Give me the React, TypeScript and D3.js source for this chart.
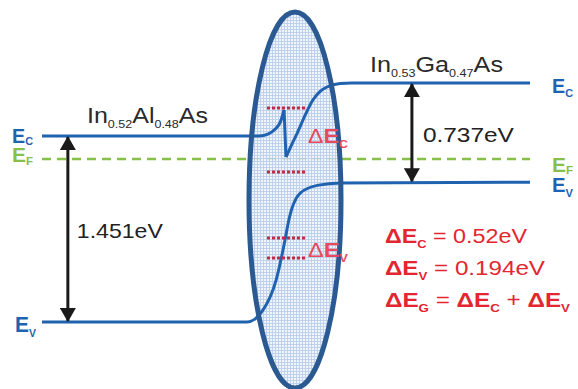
import React, { useEffect, useRef } from "react";
import * as d3 from "d3";

// band levels in eV (left InAlAs valence band = 0)
const leftEc = 1.451;
const leftEv = 0;
const rightEc = 1.864;
const rightEv = 1.09;
const fermi = 1.271;

// position (a.u., 0..100) / energy pairs for the junction region
const cbLeft: [number, number][] = [
  [0, 1.451], [44.5, 1.451], [46.3, 1.466], [47.8, 1.505], [48.9, 1.565], [49.6, 1.654],
];
const cbDrop: [number, number][] = [[49.6, 1.654], [50.0, 1.287]];
const cbRight: [number, number][] = [
  [50.0, 1.287], [51.0, 1.37], [52.3, 1.474], [54.0, 1.62], [55.5, 1.732],
  [57.0, 1.8], [58.4, 1.833], [61.1, 1.86], [63.5, 1.864], [100, 1.864],
];
const vb: [number, number][] = [
  [0, 0], [42.0, 0], [45.3, 0.094], [48.0, 0.33], [49.8, 0.64], [50.6, 0.8],
  [52.9, 1.006], [56.4, 1.066], [61.1, 1.085], [100, 1.09],
];

// offset markers (ΔEc, ΔEv) — energies of the dotted red bars
const offsetBars = [1.669, 1.17, 0.655, 0.499];
const offsetSpan: [number, number] = [46.1, 53.9];

const gaps = [
  { label: "1.451eV", pos: 5.3, top: leftEc, bottom: leftEv },
  { label: "0.737eV", pos: 75.8, top: rightEc, bottom: rightEv },
];

const results = [
  { sym: "C", value: "0.52eV" },
  { sym: "V", value: "0.194eV" },
];

const BLUE = "#1f63b0";
const GREEN = "#86c04a";
const RED = "#e3262f";

export default function App() {
  const ref = useRef<SVGSVGElement>(null);
  const width = 578;
  const height = 389;

  useEffect(() => {
    const svg = d3.select(ref.current);
    svg.selectAll("*").remove();

    const x = d3.scaleLinear().domain([0, 100]).range([42, 530]);
    const y = d3.scaleLinear().domain([0, 1.451]).range([322, 136]);

    const defs = svg.append("defs");
    const pat = defs.append("pattern")
      .attr("id", "grid")
      .attr("width", 3)
      .attr("height", 3)
      .attr("patternUnits", "userSpaceOnUse");
    pat.append("rect").attr("width", 3).attr("height", 3).attr("fill", "#b8cce9");
    pat.append("rect").attr("width", 2).attr("height", 2).attr("fill", "#eef3fa");

    const mk = defs.append("marker")
      .attr("id", "head")
      .attr("viewBox", "0 0 14 16")
      .attr("refX", 13)
      .attr("refY", 8)
      .attr("markerWidth", 14)
      .attr("markerHeight", 16)
      .attr("markerUnits", "userSpaceOnUse")
      .attr("orient", "auto-start-reverse");
    mk.append("path").attr("d", "M0,0 L14,8 L0,16 Z").attr("fill", "#1a1a1a");

    // Fermi level
    svg.append("line")
      .attr("x1", x(0)).attr("x2", x(100))
      .attr("y1", y(fermi)).attr("y2", y(fermi))
      .attr("stroke", GREEN)
      .attr("stroke-width", 2.5)
      .attr("stroke-dasharray", "9,6");

    // junction ellipse
    const ell = { cx: 295, cy: 200, rx: 46, ry: 188 };
    svg.append("ellipse")
      .attr("cx", ell.cx).attr("cy", ell.cy).attr("rx", ell.rx).attr("ry", ell.ry)
      .attr("fill", "url(#grid)")
      .attr("opacity", 0.9);

    const line = d3.line<[number, number]>()
      .x((d) => x(d[0]))
      .y((d) => y(d[1]))
      .curve(d3.curveMonotoneX);
    const straight = d3.line<[number, number]>().x((d) => x(d[0])).y((d) => y(d[1]));

    [cbLeft, cbRight, vb].forEach((pts) => {
      svg.append("path").attr("d", line(pts)).attr("fill", "none")
        .attr("stroke", BLUE).attr("stroke-width", 3);
    });
    svg.append("path").attr("d", straight(cbDrop)).attr("fill", "none")
      .attr("stroke", BLUE).attr("stroke-width", 3);

    // dotted offset bars
    offsetBars.forEach((e) => {
      svg.append("line")
        .attr("x1", x(offsetSpan[0])).attr("x2", x(offsetSpan[1]))
        .attr("y1", y(e)).attr("y2", y(e))
        .attr("stroke", "#c02a42")
        .attr("stroke-width", 3)
        .attr("stroke-dasharray", "3,2");
    });

    svg.append("ellipse")
      .attr("cx", ell.cx).attr("cy", ell.cy).attr("rx", ell.rx).attr("ry", ell.ry)
      .attr("fill", "none")
      .attr("stroke", "#2b5a93")
      .attr("stroke-width", 5);

    // gap arrows
    gaps.forEach((g, i) => {
      svg.append("line")
        .attr("x1", x(g.pos)).attr("x2", x(g.pos))
        .attr("y1", y(g.top) + 1).attr("y2", y(g.bottom) - 1)
        .attr("stroke", "#1a1a1a")
        .attr("stroke-width", 3)
        .attr("marker-start", "url(#head)")
        .attr("marker-end", "url(#head)");
      svg.append("text")
        .attr("x", x(g.pos) + (i === 0 ? 9 : 11))
        .attr("y", i === 0 ? 238 : 142)
        .attr("font-size", i === 0 ? 21 : 20)
        .attr("fill", "#222")
        .attr("textLength", i === 0 ? 86 : 91)
        .attr("lengthAdjust", "spacingAndGlyphs")
        .text(g.label);
    });

    const font = "'Liberation Sans', Arial, sans-serif";
    svg.attr("font-family", font);

    // band labels "E" + subscript
    const bandLabel = (
      px: number, py: number, sub: string, color: string, size = 20, dy = 5,
    ) => {
      const t = svg.append("text")
        .attr("x", px).attr("y", py)
        .attr("fill", color)
        .attr("font-weight", "bold")
        .attr("font-size", size)
        .attr("textLength", 21)
        .attr("lengthAdjust", "spacingAndGlyphs");
      t.append("tspan").text("E");
      t.append("tspan").attr("font-size", 11).attr("dy", dy).text(sub);
    };
    bandLabel(12, y(leftEc) + 7, "C", BLUE, 20, 2);
    bandLabel(12, y(fermi) + 3, "F", GREEN, 20, 3);
    bandLabel(15, y(leftEv) + 10, "V", BLUE, 22);
    bandLabel(552, y(rightEc) + 10, "C", BLUE, 20, 4);
    bandLabel(552, y(fermi) + 13, "F", GREEN, 20, 2);
    bandLabel(552, y(rightEv) + 10, "V", BLUE);

    // material labels
    const material = (px: number, py: number, parts: [string, boolean][], len: number) => {
      const t = svg.append("text")
        .attr("x", px).attr("y", py)
        .attr("fill", "#2a2a2a")
        .attr("font-size", 22)
        .attr("textLength", len)
        .attr("lengthAdjust", "spacingAndGlyphs");
      let down = false;
      parts.forEach(([s, sub]) => {
        const sp = t.append("tspan").text(s);
        if (sub && !down) { sp.attr("font-size", 11).attr("dy", 5); down = true; }
        else if (sub) sp.attr("font-size", 11);
        else if (down) { sp.attr("dy", -5); down = false; }
      });
    };
    material(87, 123, [["In", false], ["0.52", true], ["Al", false], ["0.48", true], ["As", false]], 121);
    material(370, 72, [["In", false], ["0.53", true], ["Ga", false], ["0.47", true], ["As", false]], 133);

    // ΔE labels at the junction
    const deltaLabel = (py: number, sub: string) => {
      const t = svg.append("text")
        .attr("x", 308).attr("y", py)
        .attr("fill", "#e64a5c")
        .attr("font-size", 20)
        .attr("textLength", 40)
        .attr("lengthAdjust", "spacingAndGlyphs");
      t.append("tspan").text("\u0394");
      t.append("tspan").attr("font-weight", "bold").text("E");
      t.append("tspan").attr("font-size", 11).attr("font-weight", "bold").attr("dy", 5).text(sub);
    };
    deltaLabel(143, "C");
    deltaLabel(257, "V");

    // results
    const lens = [142, 160];
    results.forEach((r, i) => {
      const t = svg.append("text")
        .attr("x", 385).attr("y", 243 + i * 32)
        .attr("fill", RED)
        .attr("font-size", 20)
        .attr("textLength", lens[i])
        .attr("lengthAdjust", "spacingAndGlyphs");
      t.append("tspan").attr("font-weight", "bold").text("\u0394E");
      t.append("tspan").attr("font-weight", "bold").attr("font-size", 11).attr("dy", 5).text(r.sym);
      t.append("tspan").attr("dy", -5).text(" = " + r.value);
    });
    const t3 = svg.append("text")
      .attr("x", 385).attr("y", 307)
      .attr("fill", RED)
      .attr("font-size", 20)
      .attr("textLength", 185)
      .attr("lengthAdjust", "spacingAndGlyphs");
    t3.append("tspan").attr("font-weight", "bold").text("\u0394E");
    t3.append("tspan").attr("font-weight", "bold").attr("font-size", 11).attr("dy", 5).text("G");
    t3.append("tspan").attr("dy", -5).text(" = ");
    t3.append("tspan").attr("font-weight", "bold").text("\u0394E");
    t3.append("tspan").attr("font-weight", "bold").attr("font-size", 11).attr("dy", 5).text("C");
    t3.append("tspan").attr("dy", -5).text(" + ");
    t3.append("tspan").attr("font-weight", "bold").text("\u0394E");
    t3.append("tspan").attr("font-weight", "bold").attr("font-size", 11).attr("dy", 5).text("V");
  }, []);

  return (
    <svg
      ref={ref}
      width={width}
      height={height}
      style={{ position: "absolute", left: 0, top: 0, background: "#fff" }}
    />
  );
}
